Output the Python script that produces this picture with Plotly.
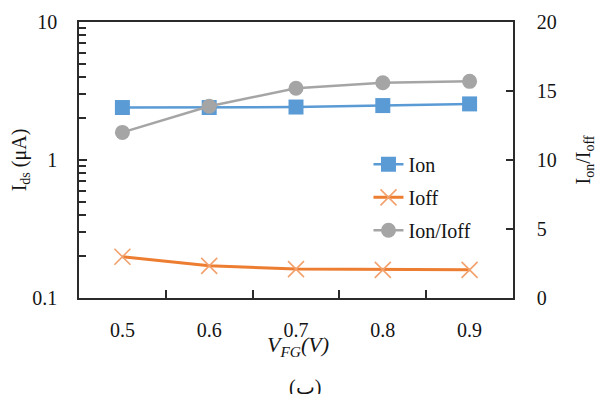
import plotly.graph_objects as go

# Gate voltage sweep (V)
vfg = ["0.5", "0.6", "0.7", "0.8", "0.9"]
# On/off drain currents (uA) and their ratio
ion = [2.40, 2.40, 2.42, 2.48, 2.55]
ioff = [0.199, 0.171, 0.162, 0.160, 0.160]
ratio = [12.0, 13.9, 15.2, 15.6, 15.7]

right_ticks = [0, 5, 10, 15, 20]
# intermediate log ticks: 0.2..0.9 and 2..9
minor_ticks = [m * 0.1 for m in range(2, 10)] + [float(m) for m in range(2, 10)]

BLUE = "#5B9BD5"
ORANGE = "#ED7D31"
GRAY = "#A5A5A5"
INK = "#141414"
AXIS = "#2b2b2b"
FONT = "'Times New Roman', 'Liberation Serif', 'DejaVu Serif', serif"

fig = go.Figure()

fig.add_trace(go.Scatter(
    x=vfg, y=ion, name="Ion", mode="lines+markers", legendgroup="a",
    line=dict(color=BLUE, width=2.5),
    marker=dict(symbol="square", size=15, color=BLUE),
))
fig.add_trace(go.Scatter(
    x=vfg, y=ioff, name="Ioff", mode="lines+markers", legendgroup="b",
    line=dict(color=ORANGE, width=3),
    marker=dict(symbol="x-thin", size=16, color=ORANGE,
                line=dict(color="#F2A06C", width=1.6)),
))
fig.add_trace(go.Scatter(
    x=vfg, y=ratio, name="Ion/Ioff", mode="lines+markers", legendgroup="c",
    yaxis="y2",
    line=dict(color=GRAY, width=2.5),
    marker=dict(symbol="circle", size=15, color=GRAY),
))
# carrier for the log axis that holds the intermediate tick marks
fig.add_trace(go.Scatter(
    x=vfg, y=ion, yaxis="y3", mode="lines", showlegend=False,
    hoverinfo="skip", line=dict(color="rgba(0,0,0,0)", width=0),
))

fig.update_layout(
    width=597, height=394,
    margin=dict(l=79, r=84, t=22, b=96),
    paper_bgcolor="white", plot_bgcolor="white",
    font=dict(family=FONT, size=20, color=INK),
    showlegend=True,
    legend=dict(x=0.667, y=0.555, xanchor="left", yanchor="top",
                bgcolor="rgba(0,0,0,0)", font=dict(size=20, color=INK),
                tracegroupgap=4),
    xaxis=dict(
        type="category", range=[-0.5, 4.5], automargin=False,
        showline=True, linecolor=AXIS, linewidth=1.5, mirror=True,
        ticks="inside", tickson="boundaries", ticklen=8, tickcolor=AXIS,
        tickwidth=1.6, ticklabelstandoff=13, showgrid=False, zeroline=False,
        tickfont=dict(size=20),
    ),
    yaxis=dict(
        type="log", range=[-1, 1], tickmode="linear", tick0=0, dtick=1,
        automargin=False,
        showline=True, linecolor=AXIS, linewidth=1.5, mirror=True,
        ticks="inside", ticklen=8, tickcolor=AXIS, tickwidth=1.6,
        ticklabelstandoff=16, showgrid=False, zeroline=False,
        tickfont=dict(size=20),
        title=dict(text="I<sub>ds</sub> (μA)", font=dict(size=20), standoff=0),
    ),
    yaxis3=dict(
        type="log", range=[-1, 1], overlaying="y", side="left",
        automargin=False, tickmode="array", tickvals=minor_ticks,
        showticklabels=False, showline=False, showgrid=False, zeroline=False,
        ticks="inside", ticklen=7, tickcolor=AXIS, tickwidth=1.6,
    ),
    yaxis2=dict(
        overlaying="y", side="right", range=[0, 20], automargin=False,
        tickvals=right_ticks,
        showline=True, linecolor=AXIS, linewidth=1.5,
        ticks="inside", ticklen=7, tickcolor=AXIS, tickwidth=1.6,
        ticklabelstandoff=18, showgrid=False, zeroline=False,
        tickfont=dict(size=20),
        title=dict(text="I<sub>on</sub>/I<sub>off</sub>", font=dict(size=20),
                   standoff=22),
    ),
)

# x-axis title, set just under the tick labels
fig.add_annotation(
    text="<i>V<sub>FG</sub>(V)</i>", xref="paper", yref="paper",
    x=0.505, y=-0.175, xanchor="center", yanchor="middle", showarrow=False,
    font=dict(size=22, color=INK, family=FONT),
)

fig.add_annotation(
    text="(ب)", xref="paper", yref="paper", x=0.52, y=-0.275,
    xanchor="center", yanchor="top", showarrow=False,
    font=dict(size=20, color=INK, family=FONT),
)

fig.write_html("out.html")
